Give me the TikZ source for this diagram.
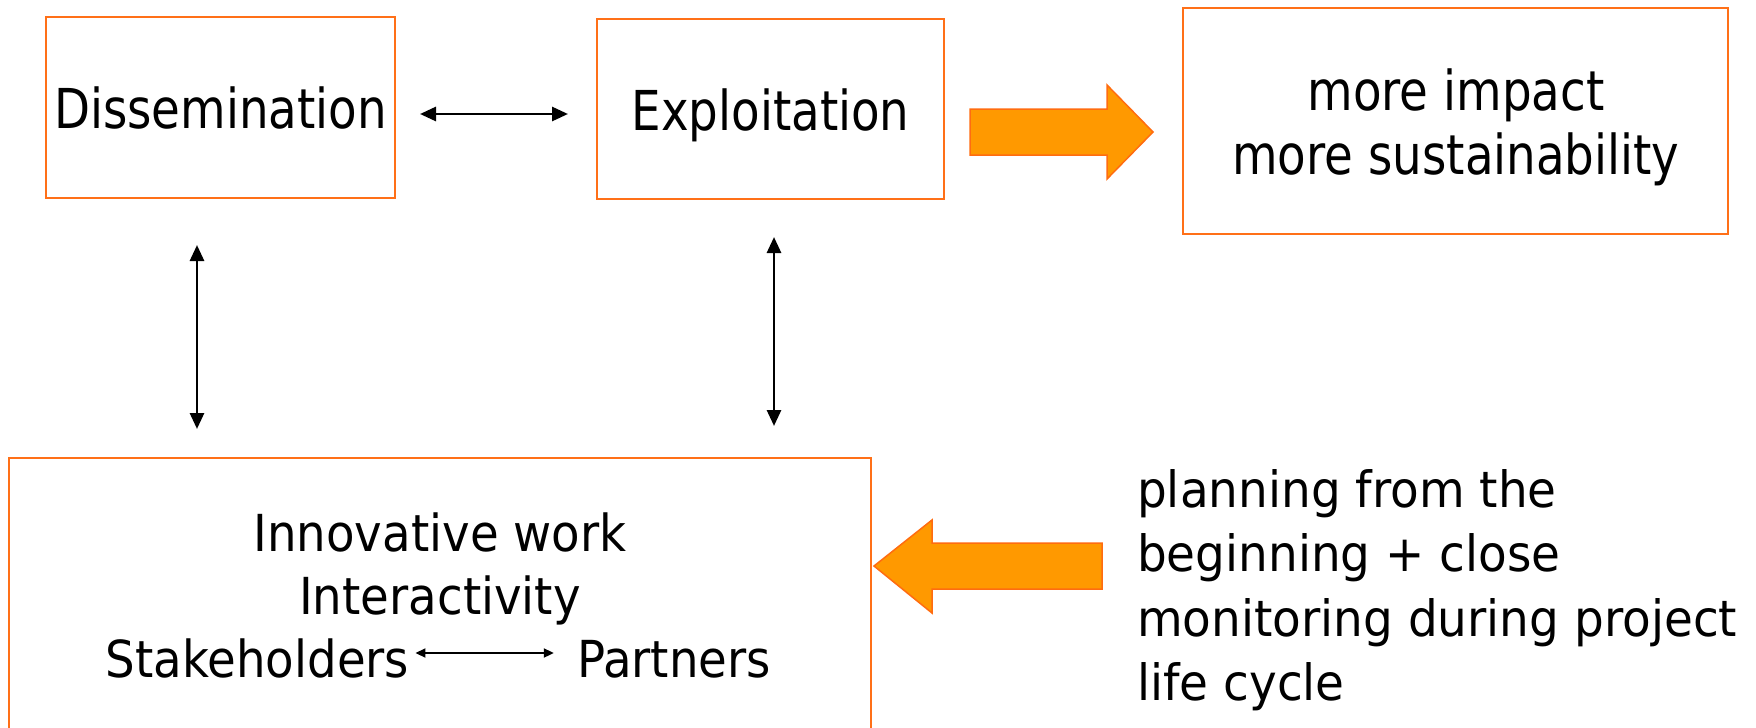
\documentclass[tikz,border=0pt]{standalone}
\usepackage{fontspec}
\setmainfont{DejaVu Sans}[FakeStretch=0.85]
\newfontfamily\workface{DejaVu Sans}[FakeStretch=0.915]
\newfontfamily\planface{DejaVu Sans}[FakeStretch=0.938]
\usetikzlibrary{arrows.meta}
\definecolor{boxorange}{RGB}{255,112,24}
\definecolor{arrowfill}{RGB}{255,153,0}
\definecolor{arrowline}{RGB}{255,108,16}
\begin{document}
\begin{tikzpicture}[x=1pt,y=-1pt,
  box/.style={draw=boxorange,line width=2pt,inner sep=0pt},
  big/.style={font=\fontsize{55}{64}\selectfont},
  mid/.style={font=\workface\fontsize{51}{63}\selectfont},
  sml/.style={font=\planface\fontsize{50}{64.5}\selectfont},
  txt/.style={inner sep=0pt},
  dbl/.style={{Triangle[length=16pt,width=14pt]}-{Triangle[length=16pt,width=14pt]},line width=2.8pt,black},
  thin/.style={{Triangle[length=10pt,width=9pt]}-{Triangle[length=10pt,width=9pt]},line width=1.8pt,black},
  blockarrow/.style={fill=arrowfill,draw=arrowline,line width=1.5pt,line join=miter}]
\useasboundingbox (0,0) rectangle (1756,728);
\fill[white] (0,0) rectangle (1756,728);
% boxes
\node[box,big,minimum width=349pt,minimum height=181pt,text height=42pt,text depth=0pt] (diss) at (220.5,107.5) {Dissemination};
\node[box,big,minimum width=347pt,minimum height=180pt,text height=42pt,text depth=0pt] (expl) at (770.5,109) {Exploitation};
\node[box,minimum width=545pt,minimum height=226pt] (impact) at (1455.5,121) {};
\node[txt,big,align=center,anchor=base] (impt) at (1456,174) {more impact\\more sustainability};
\node[box,minimum width=862pt,minimum height=330pt,anchor=north west] (work) at (8,457) {};
\node[txt,mid,anchor=base] (innov) at (440,551) {Innovative work};
\node[txt,mid,anchor=base] (inter) at (440,614) {Interactivity};
\node[txt,mid,anchor=base] (stake) at (257.5,677) {Stakeholders};
\node[txt,mid,anchor=base] (partn) at (674,677) {Partners};
\node[txt,sml,align=left,anchor=base west] (plan) at (1137,700.5) {planning from the\\beginning + close\\monitoring during project\\life cycle};
% connectors
\draw[dbl,shorten <=24pt,shorten >=28pt] (diss.east |- 0,114) -- (expl.west |- 0,114);
\draw[dbl,shorten <=46pt,shorten >=28pt] (diss.south -| 197,0) -- (work.north -| 197,0);
\draw[dbl,shorten <=37pt,shorten >=31pt] (expl.south -| 774,0) -- (work.north -| 774,0);
\draw[thin,shorten <=6pt,shorten >=23pt] (stake.east |- 0,653) -- (partn.west |- 0,653);
% block arrows
\draw[blockarrow] (970,109) -- (1107,109) -- (1107,85) -- (1153,132) -- (1107,179) -- (1107,155) -- (970,155) -- cycle;
\draw[blockarrow] (1102,543) -- (932,543) -- (932,520) -- (874,566) -- (932,613) -- (932,589) -- (1102,589) -- cycle;
\end{tikzpicture}
\end{document}
